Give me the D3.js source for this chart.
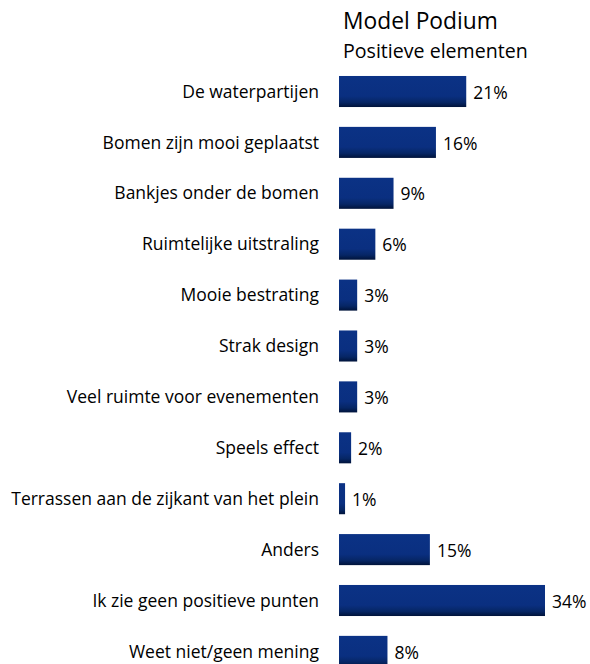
<!DOCTYPE html>
<html><head><meta charset="utf-8">
<script src="https://cdn.jsdelivr.net/npm/d3@7"></script>
<style>body{margin:0;background:#fff;} text{font-family:"Open Sans",Lato,sans-serif;fill:#000;}</style>
</head><body>
<svg id="chart" width="590" height="664"></svg>
<script>
const categories = ["De waterpartijen","Bomen zijn mooi geplaatst","Bankjes onder de bomen","Ruimtelijke uitstraling","Mooie bestrating","Strak design","Veel ruimte voor evenementen","Speels effect","Terrassen aan de zijkant van het plein","Anders","Ik zie geen positieve punten","Weet niet/geen mening"];
const values = [21,16,9,6,3,3,3,2,1,15,34,8];
const valueLabels = ["21%","16%","9%","6%","3%","3%","3%","2%","1%","15%","34%","8%"];
const title = "Model Podium";
const subtitle = "Positieve elementen";

const svg = d3.select("#chart");
const defs = svg.append("defs");
const g = defs.append("linearGradient").attr("id","barGrad").attr("x1",0).attr("y1",0).attr("x2",0).attr("y2",1);
g.append("stop").attr("offset","0%").attr("stop-color","#0b3285");
g.append("stop").attr("offset","65%").attr("stop-color","#0a2f80");
g.append("stop").attr("offset","85%").attr("stop-color","#062665");
g.append("stop").attr("offset","100%").attr("stop-color","#00133a");

const x0 = 339;
const x = d3.scaleLinear().domain([0,34]).range([x0, 545]);
const y = d3.scaleBand().domain(categories).range([65.8, 677.1]).paddingInner(0.39).paddingOuter(0.2);

svg.append("text").attr("x",343).attr("y",29).attr("font-size",22.8).text(title);
svg.append("text").attr("x",343).attr("y",58).attr("font-size",19.6).text(subtitle);

svg.selectAll("rect.bar").data(values).join("rect").attr("class","bar")
  .attr("x", x0).attr("y",(d,i)=>y(categories[i]))
  .attr("width", d=>x(d)-x0).attr("height", y.bandwidth())
  .attr("fill","url(#barGrad)");

svg.selectAll("text.cat").data(categories).join("text").attr("class","cat")
  .attr("x",319).attr("y",d=>y(d)+y.bandwidth()/2).attr("dy","0.35em")
  .attr("text-anchor","end").attr("font-size",17.5).text(d=>d);

svg.selectAll("text.val").data(values).join("text").attr("class","val")
  .attr("x",d=>x(d)+7).attr("y",(d,i)=>y(categories[i])+y.bandwidth()/2+1).attr("dy","0.35em")
  .attr("font-size",17.5).text((d,i)=>valueLabels[i]);
</script>
</body></html>
